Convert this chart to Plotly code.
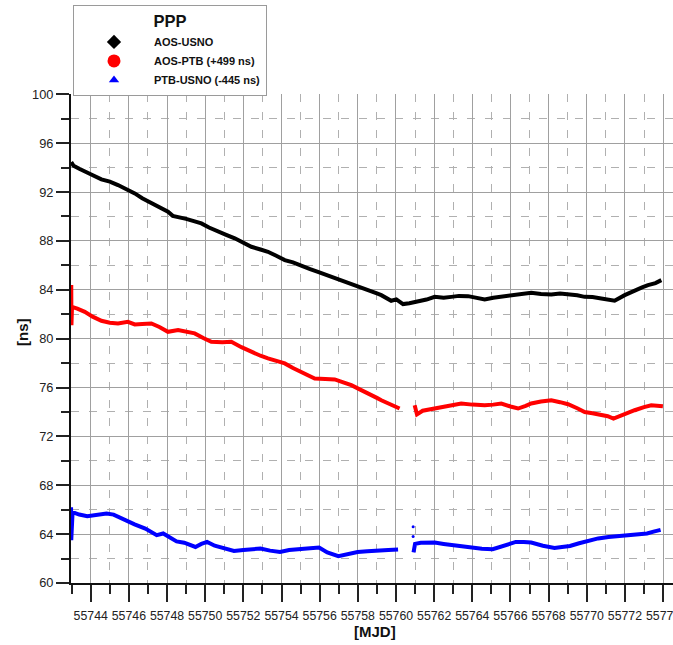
import plotly.graph_objects as go

# ---- PPP clock comparison series (MJD, ns) ----
black_mjd = [55742.98, 55743.10, 55743.40, 55743.69, 55744.00, 55744.56, 55745.00, 55745.43,
             55745.90, 55746.31, 55746.70, 55747.18, 55747.60, 55748.05, 55748.30, 55748.58,
             55749.00, 55749.45, 55749.80, 55750.20, 55750.67, 55751.10, 55751.55, 55752.00,
             55752.42, 55752.90, 55753.29, 55753.70, 55754.17, 55754.60, 55755.04, 55755.50,
             55755.91, 55756.40, 55756.79, 55757.20, 55757.66, 55758.10, 55758.53, 55759.00,
             55759.23, 55759.50, 55759.75, 55760.02, 55760.37, 55760.70, 55761.15, 55761.60,
             55762.03, 55762.50, 55762.90, 55763.30, 55763.78, 55764.20, 55764.65, 55765.10,
             55765.52, 55766.00, 55766.40, 55766.80, 55767.09, 55767.60, 55768.14, 55768.60,
             55769.02, 55769.50, 55769.89, 55770.30, 55770.76, 55771.10, 55771.46, 55771.99,
             55772.51, 55772.90, 55773.21, 55773.60, 55773.91]
black_ns = [94.45, 94.15, 93.90, 93.66, 93.45, 93.04, 92.85, 92.57,
            92.25, 91.89, 91.50, 91.12, 90.80, 90.39, 90.05, 89.98,
            89.80, 89.60, 89.43, 89.10, 88.75, 88.50, 88.21, 87.85,
            87.52, 87.30, 87.11, 86.80, 86.43, 86.25, 86.02, 85.70,
            85.47, 85.20, 84.93, 84.75, 84.52, 84.25, 83.97, 83.70,
            83.56, 83.30, 83.10, 83.21, 82.83, 82.90, 83.01, 83.20,
            83.42, 83.35, 83.42, 83.50, 83.48, 83.35, 83.21, 83.35,
            83.42, 83.50, 83.56, 83.65, 83.75, 83.65, 83.62, 83.70,
            83.64, 83.55, 83.42, 83.40, 83.29, 83.20, 83.10, 83.56,
            83.97, 84.20, 84.38, 84.55, 84.79]

red_mjd = [55742.98, 55742.99, 55743.02, 55743.30, 55743.69, 55744.10, 55744.56, 55745.00,
           55745.43, 55745.95, 55746.31, 55746.70, 55747.18, 55747.60, 55748.05, 55748.58,
           55749.00, 55749.45, 55749.90, 55750.32, 55750.90, 55751.37, 55751.90, 55752.42,
           55752.90, 55753.29, 55753.70, 55754.17, 55754.60, 55755.04, 55755.40, 55755.74,
           55756.30, 55756.79, 55757.20, 55757.66, 55758.10, 55758.53, 55759.00, 55759.23,
           55759.50, 55759.75, 55760.19, None, 55760.98, 55761.10, 55761.40, 55761.70,
           55762.03, 55762.50, 55763.00, 55763.42, 55764.00, 55764.65, 55765.10, 55765.52,
           55766.00, 55766.40, 55766.80, 55767.09, 55767.60, 55768.14, 55768.60, 55769.02,
           55769.50, 55769.89, 55770.30, 55770.76, 55771.10, 55771.40, 55772.00, 55772.51,
           55773.00, 55773.38, 55773.99]
red_ns = [84.40, 81.10, 82.60, 82.45, 82.19, 81.80, 81.46, 81.30,
          81.24, 81.38, 81.16, 81.20, 81.24, 80.95, 80.56, 80.70,
          80.55, 80.43, 80.05, 79.74, 79.70, 79.74, 79.30, 78.92,
          78.60, 78.38, 78.20, 77.97, 77.60, 77.28, 76.95, 76.74,
          76.70, 76.66, 76.45, 76.19, 75.85, 75.55, 75.15, 74.96,
          74.75, 74.55, 74.28, None, 74.55, 73.80, 74.10, 74.20,
          74.28, 74.45, 74.60, 74.69, 74.60, 74.55, 74.60, 74.69,
          74.45, 74.28, 74.50, 74.69, 74.85, 74.96, 74.80, 74.63,
          74.30, 74.00, 73.90, 73.79, 73.65, 73.45, 73.85, 74.14,
          74.40, 74.55, 74.47]

blue_mjd = [55742.97, 55742.98, 55743.05, 55743.40, 55743.82, 55744.30, 55744.83, 55745.20,
            55745.84, 55746.30, 55746.86, 55747.20, 55747.46, 55747.80, 55748.10, 55748.50,
            55748.90, 55749.49, 55749.80, 55750.10, 55750.50, 55751.00, 55751.51, 55752.00,
            55752.50, 55752.90, 55753.40, 55753.92, 55754.40, 55754.95, 55755.50, 55755.97,
            55756.40, 55756.98, 55757.50, 55757.99, 55758.50, 55759.00, 55759.60, 55760.11,
            None, 55760.92, 55761.00, 55761.30, 55762.03, 55762.50, 55763.05, 55763.50,
            55764.06, 55764.50, 55765.07, 55765.60, 55766.28, 55766.70, 55767.09, 55767.70,
            55768.31, 55768.70, 55769.12, 55769.60, 55770.13, 55770.60, 55771.14, 55771.60,
            55772.15, 55772.60, 55773.16, 55773.50, 55773.87]
blue_ns = [66.20, 63.50, 65.80, 65.60, 65.46, 65.55, 65.68, 65.60,
           65.10, 64.80, 64.45, 64.10, 63.91, 64.05, 63.80, 63.40,
           63.30, 62.95, 63.20, 63.36, 63.05, 62.80, 62.62, 62.70,
           62.75, 62.82, 62.65, 62.54, 62.70, 62.74, 62.85, 62.90,
           62.50, 62.20, 62.40, 62.54, 62.60, 62.68, 62.70, 62.74,
           None, 62.50, 63.20, 63.30, 63.31, 63.20, 63.09, 63.00,
           62.87, 62.80, 62.76, 63.00, 63.36, 63.35, 63.31, 63.05,
           62.87, 62.95, 63.03, 63.25, 63.50, 63.65, 63.77, 63.85,
           63.91, 63.95, 64.05, 64.20, 64.35]

# isolated PTB-USNO epochs after the data gap
blue_out_mjd = [55760.90, 55760.90]
blue_out_ns = [64.60, 63.80]

x_tick_start, x_tick_step = 55744, 2
y_tick_start, y_tick_step = 60, 4

W, H = 673, 645
TICK_FONT = "Liberation Sans, Arial, sans-serif"
BOLD_FONT = "Liberation Sans, Arial, sans-serif"

fig = go.Figure()

series = [
    (black_mjd, black_ns, "#000000", "AOS-USNO", "diamond", 11),
    (red_mjd, red_ns, "#ff0000", "AOS-PTB (+499 ns)", "circle", 13),
    (blue_mjd, blue_ns, "#0000ff", "PTB-USNO (-445 ns)", "triangle-up", 9),
]
for xs, ys, col, name, sym, msz in series:
    fig.add_trace(go.Scatter(x=xs, y=ys, mode="lines", line=dict(color=col, width=4),
                             connectgaps=False, showlegend=False, hoverinfo="skip"))

fig.add_trace(go.Scatter(x=blue_out_mjd, y=blue_out_ns, mode="markers",
                         marker=dict(color="#0000ff", size=3), showlegend=False,
                         hoverinfo="skip"))

# legend entries drawn as symbols
for xs, ys, col, name, sym, msz in series:
    fig.add_trace(go.Scatter(x=[None], y=[None], mode="markers", name=name,
                             marker=dict(color=col, symbol=sym, size=msz)))

grid_major = "#a0a0a0"
grid_minor = "#b0b0b0"

fig.update_layout(
    width=W, height=H,
    margin=dict(l=0, r=0, t=0, b=0, autoexpand=False),
    paper_bgcolor="white", plot_bgcolor="white",
    xaxis=dict(
        domain=[71 / W, 1.0], range=[55742.967, 55774.52], automargin=False,
        tickmode="linear", tick0=x_tick_start, dtick=x_tick_step, tickformat="d",
        tickangle=0, ticklabeloverflow="allow", ticklabelstandoff=3,
        ticks="outside", ticklen=17, tickwidth=2, tickcolor="#222",
        showline=True, linecolor="#111", linewidth=2,
        showgrid=True, gridcolor=grid_major, gridwidth=1, zeroline=False,
        tickfont=dict(family=TICK_FONT, size=12.3, color="#222"),
        minor=dict(tick0=55743, dtick=1, ticks="outside", ticklen=9, tickwidth=1.5,
                   tickcolor="#222", showgrid=True, gridcolor=grid_minor,
                   griddash="8px,10px", gridwidth=1),
    ),
    yaxis=dict(
        domain=[62 / H, 550.7 / H], range=[60, 100], automargin=False,
        tickmode="linear", tick0=y_tick_start, dtick=y_tick_step,
        ticks="outside", ticklen=13, tickwidth=2, tickcolor="#222",
        showline=True, linecolor="#111", linewidth=2,
        showgrid=True, gridcolor=grid_major, gridwidth=1, zeroline=False,
        tickfont=dict(family=TICK_FONT, size=12.8, color="#222"),
        minor=dict(tick0=60, dtick=2, ticks="outside", ticklen=8, tickwidth=1.5,
                   tickcolor="#222", showgrid=True, gridcolor=grid_minor,
                   griddash="8px,10px", gridwidth=1),
    ),
    legend=dict(
        x=73 / W, y=1 - 5 / H, xanchor="left", yanchor="top",
        bgcolor="white", bordercolor="#9a9a9a", borderwidth=1,
        font=dict(family=BOLD_FONT, size=11, color="#111", weight="bold"),
        title=dict(text="PPP", side="top center",
                   font=dict(family=BOLD_FONT, size=16.5, color="#111", weight="bold")),
        itemwidth=70, itemclick=False,
    ),
    annotations=[
        dict(text="<b>[MJD]</b>", x=375 / W, y=1 - 631 / H, xref="paper", yref="paper",
             showarrow=False, font=dict(family=BOLD_FONT, size=15, color="#111"),
             xanchor="center", yanchor="middle"),
        dict(text="<b>[ns]</b>", x=22 / W, y=1 - 332 / H, xref="paper", yref="paper",
             showarrow=False, textangle=-90,
             font=dict(family=BOLD_FONT, size=15, color="#111"),
             xanchor="center", yanchor="middle"),
    ],
)

fig.write_html("out.html")
